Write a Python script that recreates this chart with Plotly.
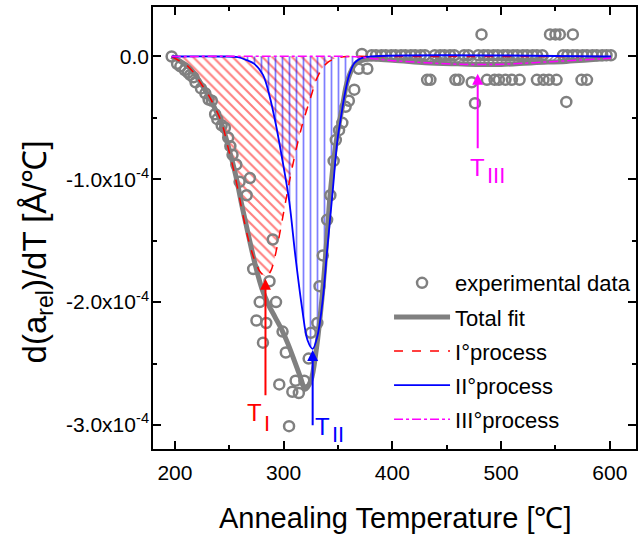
import plotly.graph_objects as go

# derivative values are stored in units of 1e-4 Å/°C
UNIT = 1e-4

# ---- experimental data: annealing temperature (°C) and d(a_rel)/dT ----
exp_T = [197, 202, 205, 209, 212, 214, 217, 219, 224, 228, 231, 234, 237, 239,
         243, 246, 249, 251, 253, 256.5, 259.5, 266, 269, 272, 275, 278, 281,
         284, 287, 290, 293, 296, 299, 302, 305, 308, 311, 314, 319, 323, 325,
         331, 333, 336, 340, 343, 346, 348, 351, 354, 357, 360, 365, 369, 372,
         377,
         381, 385, 390, 394, 399, 403, 408, 412, 417, 421, 426, 430, 439, 444,
         448, 453, 457, 466, 470, 479, 484, 488, 493, 497, 502, 506, 511, 515,
         520, 524, 529, 533, 538, 557, 561, 566, 570, 575, 579, 584, 588, 593,
         597, 601,
         432, 435, 458, 461, 473, 487, 494, 498, 504, 510, 517, 533, 539, 544,
         551, 574, 579,
         482, 545, 550, 554, 566,
         476, 560]
exp_v = [0.00, -0.06, -0.08, -0.11, -0.13, -0.15, -0.17, -0.21, -0.26, -0.30,
         -0.35, -0.36, -0.47, -0.51, -0.56, -0.58, -0.66, -0.73, -0.80, -0.88,
         -1.02, -1.13, -0.99, -1.73, -2.15, -2.00, -2.33, -2.17, -1.83, -1.49,
         -2.00, -2.67, -2.24, -2.41, -3.01, -2.73, -2.64, -2.74, -2.64, -2.46,
         -2.25, -2.17, -1.87, -1.62, -1.33, -1.13, -0.85, -0.68, -0.60, -0.54,
         -0.41, -0.36, -0.27, -0.10, 0.02, -0.10,
         0.01, 0.01, 0.01, 0.01, 0.01, 0.01, 0.01, 0.01, 0.01, 0.01, 0.01, 0.01,
         0.01, 0.01, 0.01, 0.01, 0.01, 0.01, 0.01, 0.01, 0.01, 0.01, 0.01, 0.01,
         0.01, 0.01, 0.01, 0.01, 0.01, 0.01, 0.01, 0.01, 0.01, 0.01, 0.01, 0.01,
         0.01, 0.01, 0.01, 0.01, 0.01, 0.01, 0.01, 0.01,
         -0.19, -0.19, -0.19, -0.19, -0.21, -0.19, -0.19, -0.19, -0.19, -0.19,
         -0.19, -0.19, -0.19, -0.19, -0.19, -0.19, -0.19,
         0.18, 0.18, 0.18, 0.18, 0.18,
         -0.38, -0.37]

# ---- total fit ----
fit_T = [197, 205, 212, 218, 224, 230, 236, 243, 250, 256, 262, 268, 274, 280,
         286, 292, 298, 304, 310, 315, 320, 325, 330, 336, 340, 343, 347, 350,
         354, 359, 366, 375, 400, 430, 460, 480, 500, 530, 560, 601]
fit_v = [0.0, -0.04, -0.08, -0.14, -0.22, -0.31, -0.41, -0.55, -0.76, -0.97,
         -1.23, -1.47, -1.70, -1.89, -2.02, -2.12, -2.22, -2.34, -2.48, -2.60,
         -2.71, -2.64, -2.39, -1.90, -1.45, -1.10, -0.78, -0.60, -0.41, -0.19,
         -0.06, -0.025, -0.03, -0.05, -0.06, -0.065, -0.065, -0.05, -0.04, -0.015]

# ---- process I ----
p1_T = [197, 205, 212, 218, 224, 230, 236, 243, 250, 255, 261, 267, 273, 279,
        284, 288, 292, 296, 300, 304, 308, 313, 318, 325, 331, 339, 348, 360,
        380, 601]
p1_v = [0.0, -0.04, -0.08, -0.14, -0.22, -0.30, -0.40, -0.54, -0.78, -0.96,
        -1.22, -1.47, -1.65, -1.76, -1.79, -1.75, -1.63, -1.46, -1.27, -1.08,
        -0.90, -0.70, -0.53, -0.33, -0.17, -0.06, -0.015, 0.0, 0.0, 0.0]

# ---- process II ----
p2_T = [197, 240, 258, 266, 273, 281, 287, 293, 298, 305, 311, 317, 322,
        326.7, 331, 336, 340, 345, 349.5, 353, 356, 360, 365, 371, 380, 601]
p2_v = [0.0, 0.0, -0.005, -0.03, -0.06, -0.15, -0.32, -0.56, -0.80, -1.17,
        -1.64, -2.05, -2.31, -2.38, -2.28, -1.98, -1.58, -1.11, -0.68, -0.48,
        -0.32, -0.16, -0.055, -0.015, 0.0, 0.0]

# ---- process III ----
p3_T = [197, 360, 370, 390, 410, 430, 450, 470, 490, 510, 530, 550, 570, 590,
        601]
p3_v = [0.0, 0.0, -0.005, -0.025, -0.04, -0.05, -0.06, -0.065, -0.065, -0.06,
        -0.05, -0.04, -0.03, -0.02, -0.015]

# characteristic temperatures (°C) with arrow tip / tail levels
T_I, T_I_tip, T_I_tail = 283.3, -1.81, -2.77
T_II, T_II_tip, T_II_tail = 326.7, -2.39, -3.015
T_III, T_III_tip, T_III_tail = 478.5, -0.14, -0.76

x_ticks = [200, 300, 400, 500, 600]
y_ticks = [0, -1, -2, -3]
y_ticktext = ["0.0", "-1.0x10<sup>-4</sup>", "-2.0x10<sup>-4</sup>",
              "-3.0x10<sup>-4</sup>"]


def scaled(vals):
    return [v * UNIT for v in vals]


GRAY = "#808080"
RED = "#FF0000"
BLUE = "#0000FF"
MAGENTA = "#FF00FF"
FONT = "Liberation Sans, Arial, sans-serif"

fig = go.Figure()

# hatched areas of the three processes
fig.add_trace(go.Scatter(
    x=p1_T, y=scaled(p1_v), mode="lines", line=dict(width=0, shape="spline"),
    fill="tozeroy", fillcolor="rgba(0,0,0,0)",
    fillpattern=dict(shape="\\", fgcolor=RED, size=7, solidity=0.3),
    showlegend=False, hoverinfo="skip"))
fig.add_trace(go.Scatter(
    x=p2_T, y=scaled(p2_v), mode="lines", line=dict(width=0, shape="spline"),
    fill="tozeroy", fillcolor="rgba(0,0,0,0)",
    fillpattern=dict(shape="|", fgcolor=BLUE, size=7, solidity=0.25),
    showlegend=False, hoverinfo="skip"))
fig.add_trace(go.Scatter(
    x=p3_T, y=scaled(p3_v), mode="lines", line=dict(width=0, shape="spline"),
    fill="tozeroy", fillcolor="rgba(0,0,0,0)",
    fillpattern=dict(shape="/", fgcolor="black", size=3, solidity=0.45),
    showlegend=False, hoverinfo="skip"))

fig.add_trace(go.Scatter(
    x=exp_T, y=scaled(exp_v), mode="markers", name="experimental data",
    legendgroup="exp",
    marker=dict(symbol="circle-open", size=10, color=GRAY,
                line=dict(width=2.5, color=GRAY))))
fig.add_trace(go.Scatter(
    x=fit_T, y=scaled(fit_v), mode="lines", name="Total fit",
    legendgroup="fit",
    line=dict(color=GRAY, width=5, shape="spline")))
fig.add_trace(go.Scatter(
    x=p1_T, y=scaled(p1_v), mode="lines", name="I°process",
    legendgroup="p1",
    line=dict(color=RED, width=1.5, dash="dash", shape="spline")))
fig.add_trace(go.Scatter(
    x=p2_T, y=scaled(p2_v), mode="lines", name="II°process",
    legendgroup="p2",
    line=dict(color=BLUE, width=1.8, shape="spline")))
fig.add_trace(go.Scatter(
    x=p3_T, y=scaled(p3_v), mode="lines", name="III°process",
    legendgroup="p3",
    line=dict(color=MAGENTA, width=1.5, dash="dashdot", shape="spline")))

annotations = []


def arrow(x, tip, tail, color):
    annotations.append(dict(
        x=x, y=tip * UNIT, ax=x, ay=tail * UNIT, xref="x", yref="y",
        axref="x", ayref="y", text="", showarrow=True, arrowhead=2,
        arrowsize=1.1, arrowwidth=2, arrowcolor=color))


def label(xjoin, y, sub, suby, color):
    # "T" ends where its subscript begins
    annotations.append(dict(x=xjoin, y=y * UNIT, xref="x", yref="y", text="T",
                            xanchor="right", borderpad=0, showarrow=False,
                            font=dict(size=24, color=color, family=FONT)))
    annotations.append(dict(x=xjoin, y=suby * UNIT, xref="x", yref="y",
                            text=sub, xanchor="left", borderpad=0,
                            showarrow=False,
                            font=dict(size=22, color=color, family=FONT)))


arrow(T_I, T_I_tip, T_I_tail, RED)
arrow(T_II, T_II_tip, T_II_tail, BLUE)
arrow(T_III, T_III_tip, T_III_tail, MAGENTA)
label(280.8, -2.90, "I", -2.99, RED)
label(343.4, -3.01, "II", -3.08, BLUE)
label(486.2, -0.90, "III", -0.97, MAGENTA)

# axis titles
annotations.append(dict(
    text="d(a<sub>rel</sub>)/dT [Å/℃]", textangle=-90, xref="paper",
    yref="paper", x=-0.241, y=0.446, xanchor="center", yanchor="middle",
    showarrow=False, font=dict(size=33, color="black", family=FONT)))
annotations.append(dict(
    text="Annealing Temperature [℃]", xref="paper", yref="paper", x=0.5025,
    y=-0.156, xanchor="center", yanchor="middle", showarrow=False,
    font=dict(size=29, color="black", family=FONT)))

axis_common = dict(showline=True, linewidth=1.5, linecolor="black",
                   mirror="ticks", ticks="inside", ticklen=8, tickwidth=1.5,
                   tickcolor="black", showgrid=False, zeroline=False,
                   tickfont=dict(size=21, color="black", family=FONT))

fig.update_layout(
    width=639, height=540,
    margin=dict(l=153, r=1, t=7, b=91),
    plot_bgcolor="white", paper_bgcolor="white",
    xaxis=dict(range=[179.85, 624.1], tickmode="array", tickvals=x_ticks,
               ticklabelstandoff=4,
               minor=dict(ticks="inside", ticklen=4, tickwidth=1.5,
                          tickcolor="black", tickmode="array",
                          tickvals=[250, 350, 450, 550]),
               **axis_common),
    yaxis=dict(range=[-3.196 * UNIT, 0.403 * UNIT], tickmode="array",
               tickvals=scaled(y_ticks), ticktext=y_ticktext,
               ticklabelstandoff=-2,
               minor=dict(ticks="inside", ticklen=4, tickwidth=1.5,
                          tickcolor="black", tickmode="array",
                          tickvals=scaled([-0.5, -1.5, -2.5])),
               **axis_common),
    legend=dict(x=0.4887, y=0.423, xanchor="left", yanchor="top",
                bgcolor="rgba(0,0,0,0)", itemwidth=56, traceorder="grouped",
                tracegroupgap=2.5,
                font=dict(size=22, color="black", family=FONT)),
    annotations=annotations,
    showlegend=True,
)

fig.write_html("out.html")
